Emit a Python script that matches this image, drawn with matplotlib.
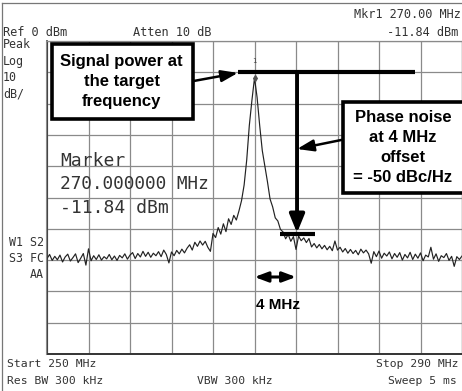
import matplotlib
matplotlib.use('Agg')
import matplotlib.pyplot as plt
from matplotlib.patches import Rectangle
from matplotlib.lines import Line2D

# trace: 250-290 MHz, 0.25 MHz steps (dBm)
freq_mhz = [250 + 0.25 * i for i in range(161)]
level_dbm = [
    -69.5, -68.2, -70.1, -68.8, -69.9, -68.4, -70.6, -69.0, -68.1, -70.3,
    -69.2, -68.0, -70.8, -69.4, -67.9, -71.6, -66.4, -70.2, -68.6, -69.8,
    -68.3, -70.0, -68.9, -69.6, -68.2, -69.9, -68.7, -70.1, -68.5, -69.3,
    -68.0, -69.7, -68.4, -67.6, -69.5, -67.9, -69.0, -67.2, -68.8, -67.5,
    -69.1, -67.8, -68.6, -67.3, -68.9, -66.8, -68.2, -70.9, -67.4, -68.6,
    -66.9, -68.0, -66.5, -67.7, -66.2, -65.1, -66.8, -64.3, -65.6, -63.9,
    -65.2, -64.0, -65.9, -67.2, -61.5, -62.8, -59.6, -61.7, -58.4, -60.9,
    -56.8, -58.6, -55.7, -57.2, -54.3, -51.0, -46.0, -38.0, -27.0, -19.0,
    -11.84, -18.0, -27.0, -35.0, -40.0, -45.0, -50.5, -53.0, -56.5, -57.5,
    -60.2, -61.0, -63.2, -61.8, -64.0, -62.5, -66.6, -62.3, -63.8, -62.9,
    -64.4, -63.1, -65.8, -64.7, -66.1, -65.0, -66.4, -65.3, -66.7, -65.6,
    -67.0, -63.9, -66.8, -65.9, -67.4, -66.3, -67.8, -66.6, -67.9, -66.9,
    -68.3, -66.5, -67.7, -66.8, -68.0, -71.0, -67.3, -68.9, -67.1, -69.4,
    -67.8, -68.7, -67.4, -69.6, -67.9, -69.1, -67.6, -70.0, -68.2, -69.3,
    -67.5, -69.8, -68.1, -69.4, -67.7, -70.2, -68.4, -69.0, -65.9, -69.7,
    -68.0, -70.4, -68.6, -69.2, -67.9, -70.1, -68.8, -72.0, -68.9, -69.8,
    -68.7,
]
x_ticks = [250 + 4 * i for i in range(11)]
y_ticks = [-10 * i for i in range(11)]

W, H = 462, 391
fig = plt.figure(figsize=(W / 100, H / 100), dpi=100)
fig.patch.set_facecolor('white')


def px(x, y):
    return x / W, 1 - y / H


# graticule
ax = fig.add_axes([47 / W, 1 - 354 / H, 415 / W, 313 / H])
ax.set_xlim(250, 290)
ax.set_ylim(-100, 0)
ax.set_xticks(x_ticks)
ax.set_yticks(y_ticks)
ax.tick_params(length=0, labelbottom=False, labelleft=False)
ax.grid(True, color='#8a8a8a', lw=0.9)
for s in ax.spines.values():
    s.set_color('#8a8a8a')
    s.set_linewidth(0.9)
ax.spines['bottom'].set_color('#333333')
ax.spines['bottom'].set_linewidth(1.4)
ax.spines['left'].set_color('#333333')
ax.spines['left'].set_linewidth(1.2)

ax.plot(freq_mhz, level_dbm, color='#222222', lw=0.85)
ax.plot([270], [-11.84], marker='d', ms=3, color='#555555')
ax.text(270, -6.5, '1', fontsize=5, ha='center', va='center', color='#444444',
        family='DejaVu Sans Mono')

# screen outline and double left edge
fig.add_artist(Line2D([2 / W, 2 / W], [0, 1 - 3 / H], color='#777777', lw=0.9))
fig.add_artist(Line2D([2 / W, 1], [1 - 3 / H, 1 - 3 / H], color='#777777', lw=0.9))
fig.add_artist(Line2D([45.5 / W, 45.5 / W], [1 - 354 / H, 1 - 41 / H], color='#8a8a8a', lw=0.8))

# analyser screen text
mono = dict(family='DejaVu Sans Mono', color='#333333')
fig.text(*px(461, 15), 'Mkr1 270.00 MHz', fontsize=8.6, ha='right', va='center', **mono)
fig.text(*px(3, 33), 'Ref 0 dBm', fontsize=8.6, ha='left', va='center', **mono)
fig.text(*px(133, 33), 'Atten 10 dB', fontsize=8.6, ha='left', va='center', **mono)
fig.text(*px(458, 33), '-11.84 dBm', fontsize=8.6, ha='right', va='center', **mono)
for i, s in enumerate(['Peak', 'Log', '10', 'dB/']):
    fig.text(*px(3, 45 + 16.3 * i), s, fontsize=8.4, ha='left', va='center', **mono)
for i, s in enumerate(['W1 S2', 'S3 FC', 'AA']):
    fig.text(*px(44, 242 + 16.5 * i), s, fontsize=8.4, ha='right', va='center', **mono)
fig.text(*px(7, 364), 'Start 250 MHz', fontsize=8.2, ha='left', va='center', **mono)
fig.text(*px(7, 381), 'Res BW 300 kHz', fontsize=8.2, ha='left', va='center', **mono)
fig.text(*px(197, 381), 'VBW 300 kHz', fontsize=8.2, ha='left', va='center', **mono)
fig.text(*px(459, 364), 'Stop 290 MHz', fontsize=8.2, ha='right', va='center', **mono)
fig.text(*px(457, 381), 'Sweep 5 ms', fontsize=8.2, ha='right', va='center', **mono)

fig.text(*px(60, 161), 'Marker', fontsize=13, ha='left', va='center', **mono)
fig.text(*px(60, 184), '270.000000 MHz', fontsize=12.8, ha='left', va='center', **mono)
fig.text(*px(60, 208), '-11.84 dBm', fontsize=13, ha='left', va='center', **mono)

# annotation overlay
bold = dict(family='Liberation Sans', weight='bold', color='black')
ax.add_patch(Rectangle((250.5, -24.9), 13.6, 24.0, facecolor='white',
                       edgecolor='black', lw=2.6, zorder=5, clip_on=False))
ax.text(257.2, -12.8, 'Signal power at\nthe target\nfrequency', fontsize=12,
        ha='center', va='center', linespacing=1.42, zorder=6, **bold)
ax.add_patch(Rectangle((278.5, -48.6), 12.5, 29.1, facecolor='white',
                       edgecolor='black', lw=2.6, zorder=5, clip_on=False))
ax.text(284.3, -33.9, 'Phase noise\nat 4 MHz\noffset\n= -50 dBc/Hz', fontsize=12,
        ha='center', va='center', linespacing=1.42, zorder=6, **bold)

ax.plot([268.4, 285.5], [-10, -10], color='black', lw=3, solid_capstyle='butt', zorder=4)
ax.plot([272.5, 275.8], [-61.7, -61.7], color='black', lw=3, solid_capstyle='butt', zorder=4)
ax.annotate('', xy=(274.1, -61.3), xytext=(274.1, -10),
            arrowprops=dict(arrowstyle='-|>,head_width=0.45,head_length=1.1',
                            color='black', lw=2.8, shrinkA=0, shrinkB=0), zorder=4)
ax.annotate('', xy=(268.4, -10.2), xytext=(264.1, -12.8),
            arrowprops=dict(arrowstyle='-|>,head_width=0.35,head_length=1.0',
                            color='black', lw=1.8, shrinkA=0, shrinkB=0), zorder=4)
ax.annotate('', xy=(274.1, -34.5), xytext=(278.4, -31.6),
            arrowprops=dict(arrowstyle='-|>,head_width=0.35,head_length=1.0',
                            color='black', lw=1.8, shrinkA=0, shrinkB=0), zorder=4)
ax.annotate('', xy=(274, -75.4), xytext=(270, -75.4),
            arrowprops=dict(arrowstyle='<|-|>,head_width=0.3,head_length=0.8',
                            color='black', lw=2.2, shrinkA=0, shrinkB=0), zorder=4)
ax.text(272.3, -84.3, '4 MHz', fontsize=11, ha='center', va='center', **bold)

fig.savefig('out.png', dpi=100, facecolor='white')
